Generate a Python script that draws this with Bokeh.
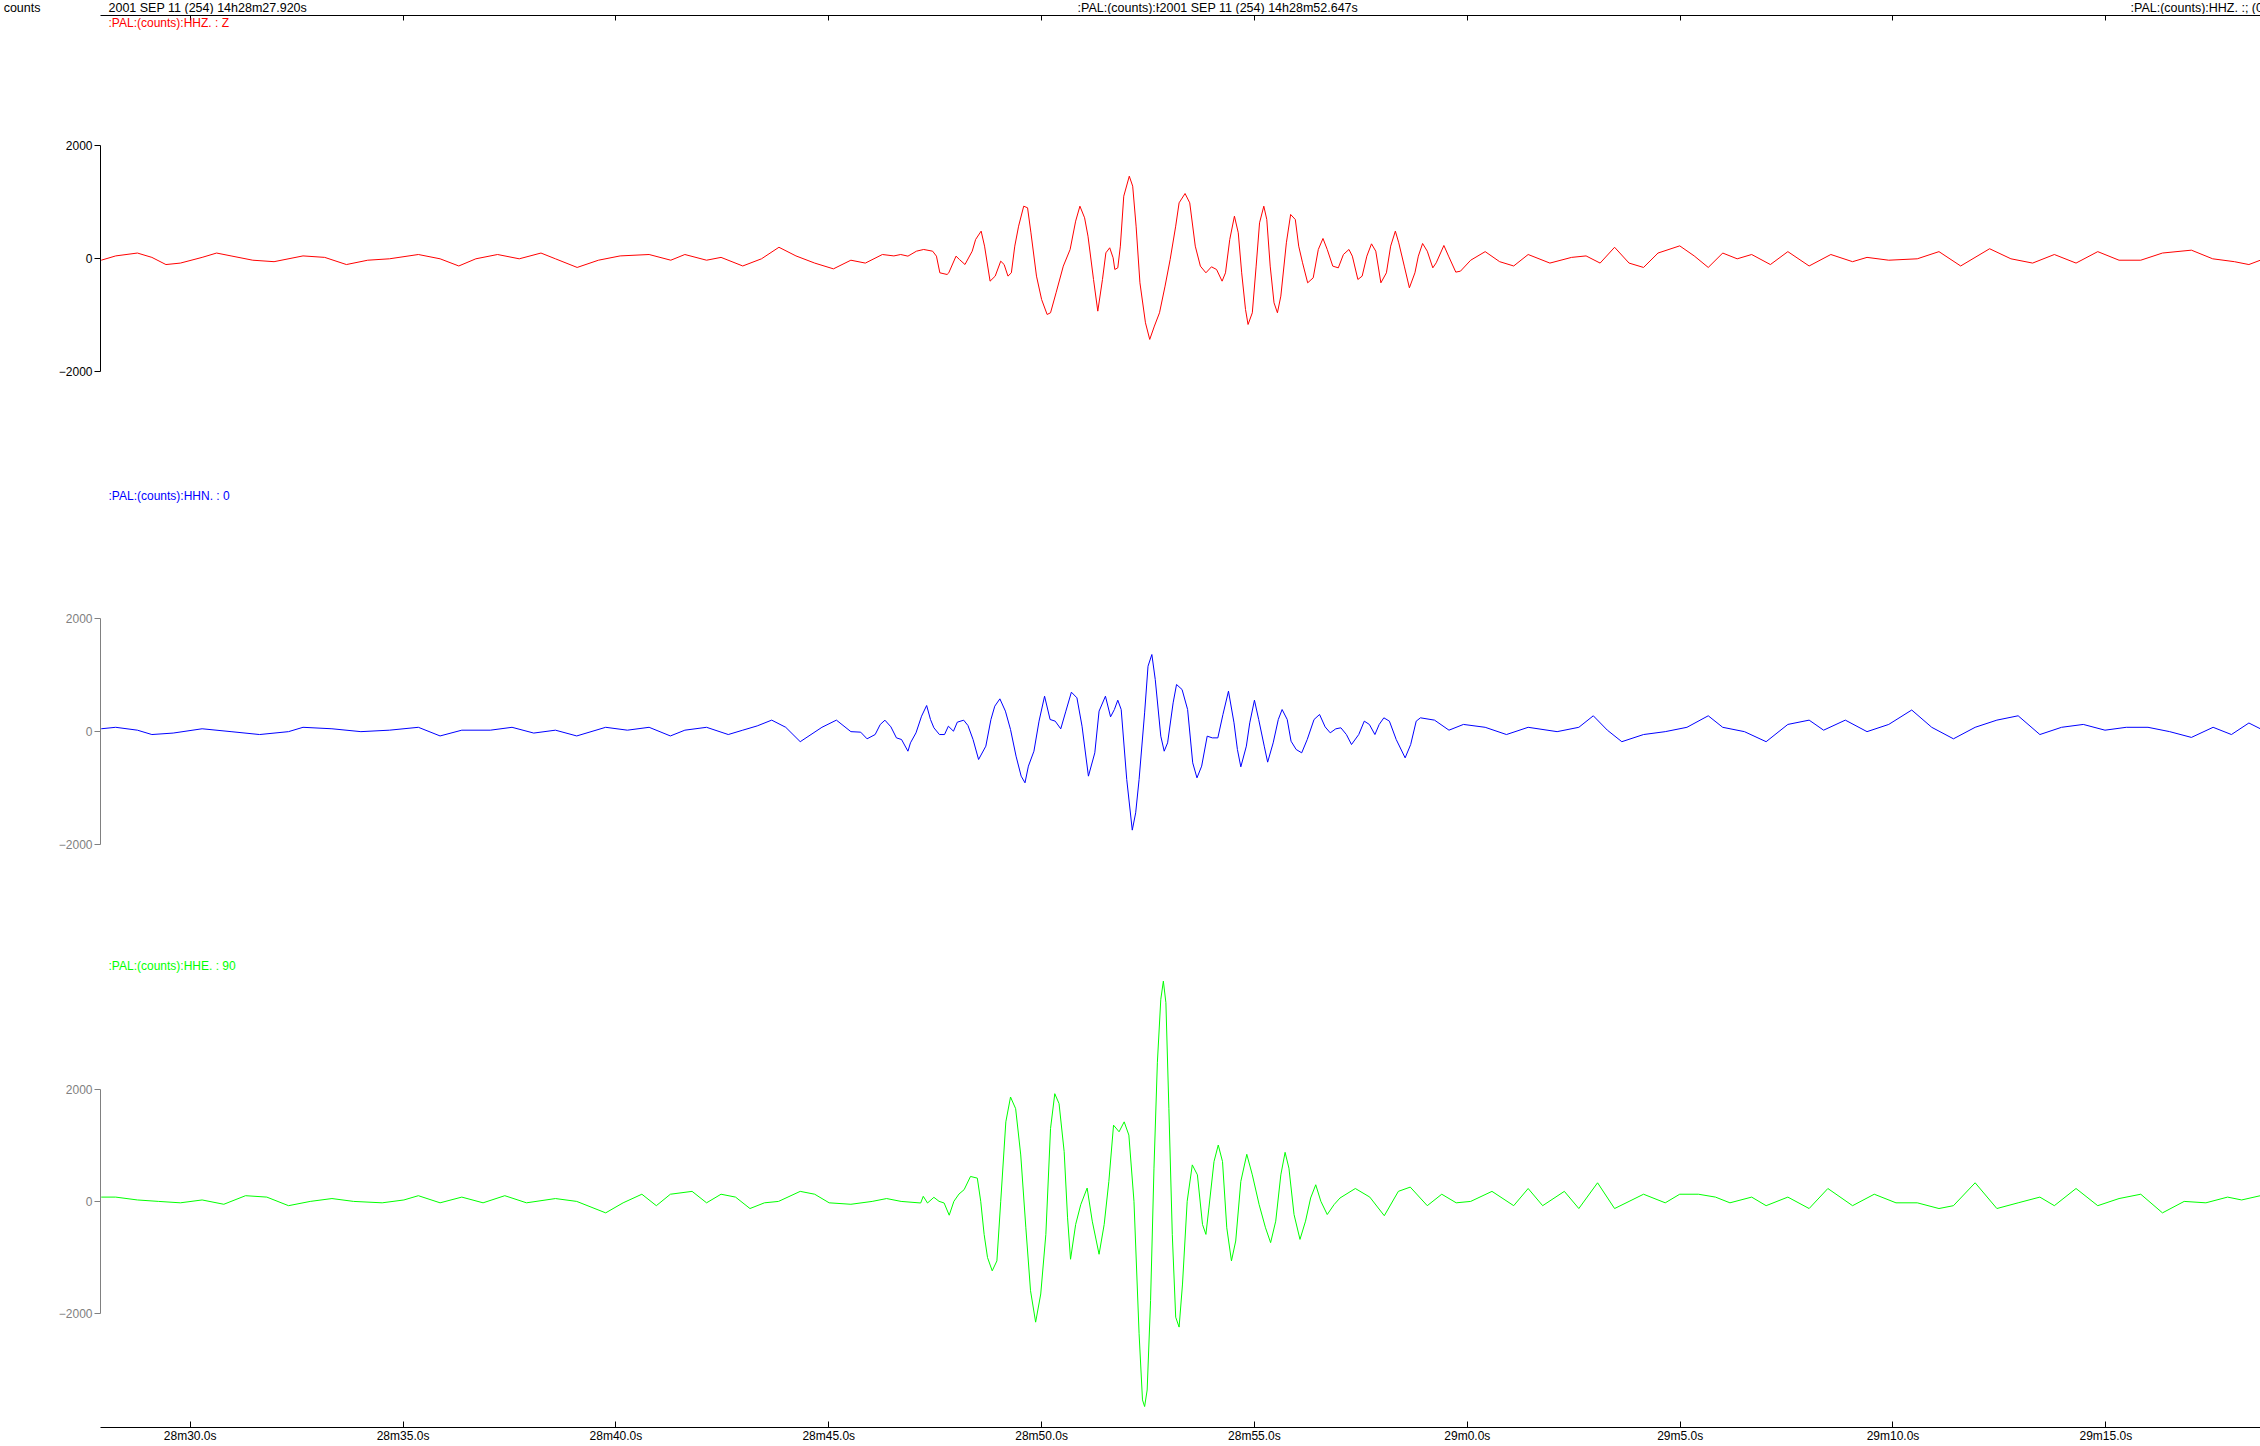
from bokeh.plotting import figure
from bokeh.models import LinearAxis, FixedTicker, Range1d, Label, CustomJSTickFormatter
from bokeh.layouts import column
from bokeh.embed import file_html
from bokeh.resources import INLINE

# ---------------- data (time in s after 14h28m, counts) ----------------
hhz_trace = [
    (27.91, -25), (28.25, 51), (28.76, 102), (29.10, 25), (29.43, -102), (29.77, -76), (30.28, 25),
    (30.62, 102), (30.96, 51), (31.47, -25), (31.97, -51), (32.65, 51), (33.16, 25), (33.67, -102),
    (34.17, -25), (34.68, 0), (35.36, 76), (35.87, 0), (36.31, -127), (36.71, 0), (37.22, 76),
    (37.73, 0), (38.24, 102), (38.58, 0), (39.09, -153), (39.59, -25), (40.10, 51), (40.78, 76),
    (41.29, -25), (41.62, 76), (42.13, -25), (42.47, 25), (42.98, -127), (43.42, 0), (43.83, 204),
    (44.23, 51), (44.67, -76), (45.11, -178), (45.52, -25), (45.86, -76), (46.26, 76), (46.53, 51),
    (46.69, 76), (46.86, 47), (47.06, 135), (47.23, 165), (47.44, 135), (47.53, 47), (47.61, -248),
    (47.78, -278), (47.82, -248), (47.99, 47), (48.07, -12), (48.20, -101), (48.37, 135), (48.45, 342),
    (48.58, 490), (48.66, 224), (48.79, -396), (48.91, -307), (49.04, -42), (49.12, -101), (49.21, -307),
    (49.29, -248), (49.37, 224), (49.46, 578), (49.58, 932), (49.67, 903), (49.75, 460), (49.88, -307),
    (50.00, -720), (50.13, -986), (50.21, -956), (50.34, -602), (50.51, -130), (50.67, 165), (50.80, 667),
    (50.90, 932), (51.01, 726), (51.09, 401), (51.22, -366), (51.32, -927), (51.43, -366), (51.51, 106),
    (51.60, 195), (51.68, 18), (51.72, -189), (51.79, -160), (51.85, 224), (51.93, 1109), (52.06, 1463),
    (52.14, 1286), (52.22, 578), (52.31, -425), (52.44, -1133), (52.54, -1428), (52.65, -1192),
    (52.77, -956), (52.90, -484), (53.02, -12), (53.15, 578), (53.23, 991), (53.37, 1156), (53.48, 991),
    (53.61, 224), (53.73, -130), (53.86, -248), (53.99, -142), (54.11, -189), (54.24, -396), (54.32, -248),
    (54.42, 342), (54.53, 755), (54.62, 460), (54.70, -248), (54.79, -897), (54.85, -1163), (54.95, -956),
    (55.04, -130), (55.12, 637), (55.22, 932), (55.29, 696), (55.37, -130), (55.46, -779), (55.54, -956),
    (55.62, -661), (55.75, 283), (55.85, 785), (55.96, 696), (56.04, 224), (56.13, -71), (56.25, -425),
    (56.38, -337), (56.50, 165), (56.61, 360), (56.71, 165), (56.84, -130), (56.97, -160), (57.09, 76),
    (57.22, 165), (57.30, 47), (57.43, -366), (57.53, -307), (57.64, 47), (57.75, 265), (57.85, 135),
    (57.97, -425), (58.10, -248), (58.20, 224), (58.31, 490), (58.39, 283), (58.52, -130), (58.64, -514),
    (58.77, -248), (58.85, 47), (58.95, 271), (59.06, 135), (59.19, -160), (59.27, -71), (59.45, 236),
    (59.56, 47), (59.73, -236), (59.84, -219),
    (60.08, -25), (60.42, 127), (60.76, -51), (61.09, -127), (61.43, 76), (61.94, -76), (62.45, 25),
    (62.79, 51), (63.12, -76), (63.46, 204), (63.80, -76), (64.14, -153), (64.48, 102), (64.99, 229),
    (65.33, 51), (65.66, -153), (66.00, 102), (66.34, 0), (66.68, 76), (67.12, -102), (67.53, 127),
    (68.03, -127), (68.54, 76), (69.05, -51), (69.39, 25), (69.90, -25), (70.57, 0), (71.08, 127),
    (71.59, -127), (72.27, 178), (72.77, 0), (73.28, -76), (73.79, 76), (74.30, -76), (74.81, 127),
    (75.31, -25), (75.82, -25), (76.33, 102), (77.01, 153), (77.51, 0), (78.02, -51), (78.36, -102),
    (78.63, -25),
]

hhn_trace = [
    (27.91, 43), (28.25, 69), (28.76, 18), (29.10, -59), (29.60, -33), (30.28, 43), (30.96, -8),
    (31.63, -59), (32.31, -8), (32.65, 69), (33.33, 43), (34.01, -8), (34.68, 18), (35.36, 69),
    (35.87, -84), (36.38, 18), (37.05, 18), (37.56, 69), (38.07, -33), (38.58, 18), (39.08, -84),
    (39.76, 69), (40.27, 18), (40.78, 69), (41.28, -84), (41.62, 18), (42.13, 69), (42.64, -59),
    (42.98, 18), (43.32, 94), (43.66, 196), (43.99, 69), (44.33, -186), (44.84, 69), (45.18, 196),
    (45.52, -8),
    (45.75, -17), (45.90, -135), (46.09, -59), (46.21, 119), (46.32, 195), (46.46, 77), (46.59, -118),
    (46.71, -147), (46.86, -354), (46.92, -206), (47.05, -29), (47.18, 266), (47.30, 455), (47.39, 207),
    (47.47, 60), (47.60, -59), (47.72, -59), (47.81, 89), (47.93, 0), (48.02, 160), (48.17, 195),
    (48.27, 101), (48.39, -147), (48.52, -501), (48.69, -265), (48.81, 207), (48.90, 443), (49.02, 573),
    (49.15, 355), (49.27, 30), (49.40, -442), (49.52, -796), (49.61, -914), (49.69, -619), (49.82, -354),
    (49.94, 178), (50.07, 620), (50.20, 207), (50.32, 178), (50.45, 42), (50.57, 355), (50.70, 691),
    (50.83, 591), (50.95, 89), (51.10, -796), (51.25, -383), (51.35, 355), (51.50, 620), (51.62, 254),
    (51.71, 384), (51.79, 549), (51.87, 384), (52.00, -855), (52.13, -1752), (52.21, -1445), (52.29, -855),
    (52.42, 325), (52.50, 1151), (52.59, 1358), (52.67, 915), (52.80, -88), (52.88, -354), (52.96, -206),
    (53.09, 502), (53.17, 827), (53.30, 738), (53.43, 384), (53.55, -560), (53.65, -826), (53.76, -619),
    (53.89, -88), (54.01, -118), (54.14, -118), (54.26, 296), (54.39, 709), (54.52, 148), (54.60, -324),
    (54.68, -631), (54.81, -265), (54.89, 148), (55.00, 549), (55.10, 207), (55.23, -265), (55.31, -548),
    (55.44, -206), (55.56, 207), (55.65, 384), (55.77, 207), (55.86, -177), (55.98, -324), (56.11, -383),
    (56.24, -147), (56.40, 207), (56.53, 296), (56.66, 77), (56.78, -29), (56.91, 42), (57.03, 60),
    (57.16, -59), (57.28, -236), (57.45, -59), (57.58, 178), (57.70, 119), (57.83, -59), (57.93, 119),
    (58.04, 237), (58.17, 178), (58.33, -147), (58.54, -472), (58.67, -236), (58.80, 178), (58.90, 237),
    (59.23, 196), (59.57, 18), (59.91, 120), (60.42, 69), (60.92, -59), (61.43, 69), (62.11, -8),
    (62.62, 69), (62.96, 273), (63.29, 18), (63.63, -186), (64.14, -59), (64.65, -8), (65.16, 69),
    (65.66, 273), (66.00, 69), (66.51, -8), (67.02, -186), (67.53, 120), (68.03, 196), (68.37, 18),
    (68.88, 196), (69.39, -8), (69.90, 120), (70.44, 375), (70.91, 69), (71.42, -135), (71.93, 69),
    (72.44, 196), (72.94, 273), (73.45, -59), (73.96, 69), (74.47, 120), (74.98, 18), (75.48, 69),
    (75.99, 69), (76.50, -8), (77.01, -110), (77.52, 69), (77.95, -59), (78.36, 145), (78.63, 43),
]

hhe_trace = [
    (27.91, 74), (28.25, 74), (28.76, 23), (29.26, -3), (29.77, -28), (30.28, 23), (30.79, -54),
    (31.30, 99), (31.80, 74), (32.31, -79), (32.82, -3), (33.33, 48), (33.84, -3), (34.51, -28),
    (35.02, 23), (35.36, 99), (35.87, -28), (36.38, 74), (36.88, -28), (37.39, 99), (37.90, -28),
    (38.58, 48), (39.08, -3), (39.76, -207), (40.17, -28), (40.61, 125), (40.95, -79), (41.28, 125),
    (41.79, 176), (42.13, -28), (42.47, 125), (42.81, 74), (43.15, -130), (43.49, -28), (43.82, -3),
    (44.33, 176), (44.67, 125), (45.01, -28), (45.52, -54), (46.02, -3), (46.36, 48), (46.70, -3),
    (47.16, -31), (47.22, 88), (47.32, -31), (47.47, 70), (47.59, -1), (47.71, -31), (47.83, -249),
    (47.94, -1), (48.06, 129), (48.18, 206), (48.33, 442), (48.49, 412), (48.57, -1), (48.65, -591),
    (48.73, -1004), (48.84, -1240), (48.95, -1063), (49.04, -1), (49.16, 1415), (49.27, 1858),
    (49.39, 1651), (49.51, 825), (49.63, -473), (49.74, -1594), (49.86, -2155), (49.98, -1653),
    (50.10, -591), (50.21, 1297), (50.31, 1917), (50.41, 1740), (50.53, 884), (50.61, -296),
    (50.68, -1034), (50.80, -414), (50.92, -60), (51.07, 235), (51.19, -355), (51.35, -945),
    (51.47, -414), (51.58, 353), (51.69, 1356), (51.82, 1238), (51.94, 1415), (52.05, 1179), (52.17, -1),
    (52.29, -2361), (52.37, -3541), (52.42, -3659), (52.48, -3364), (52.56, -1771), (52.64, 589),
    (52.72, 2477), (52.80, 3598), (52.86, 3923), (52.92, 3539), (52.99, 1651), (53.07, -591),
    (53.15, -2066), (53.23, -2243), (53.31, -1476), (53.42, -1), (53.54, 648), (53.66, 471),
    (53.78, -414), (53.86, -591), (53.93, -119), (54.05, 707), (54.15, 1002), (54.25, 707), (54.35, -473),
    (54.46, -1063), (54.56, -709), (54.68, 353), (54.82, 837), (54.95, 471), (55.11, -60), (55.26, -473),
    (55.38, -738), (55.50, -355), (55.62, 471), (55.72, 872), (55.81, 589), (55.93, -237), (56.07, -680),
    (56.20, -355), (56.32, 58), (56.44, 294), (56.56, -1), (56.71, -237), (56.87, -60), (57.01, 58),
    (57.37, 227), (57.71, 74), (58.05, -258), (58.38, 176), (58.66, 252), (59.06, -79), (59.40, 125),
    (59.74, -28), (60.08, -3), (60.58, 176), (61.09, -79), (61.43, 227), (61.77, -79), (62.28, 176),
    (62.62, -130), (63.06, 329), (63.46, -130), (63.80, -3), (64.14, 125), (64.65, -28), (64.99, 125),
    (65.43, 125), (65.83, 74), (66.17, -28), (66.68, 74), (67.02, -79), (67.53, 74), (68.03, -130),
    (68.47, 227), (69.05, -79), (69.56, 125), (70.07, -28), (70.57, -28), (71.08, -130), (71.42, -79),
    (71.93, 329), (72.44, -130), (72.94, -28), (73.45, 74), (73.79, -79), (74.30, 227), (74.81, -79),
    (75.31, 48), (75.82, 125), (76.33, -207), (76.84, -3), (77.35, -28), (77.86, 74), (78.19, 23),
    (78.63, 99),
]

tick_seconds = [30, 35, 40, 45, 50, 55, 60, 65, 70, 75]
tick_labels = ["28m30.0s", "28m35.0s", "28m40.0s", "28m45.0s", "28m50.0s",
               "28m55.0s", "29m0.0s", "29m5.0s", "29m10.0s", "29m15.0s"]
count_ticks = [-2000, 0, 2000]

units_text = "counts"
header_left = "2001 SEP 11 (254)  14h28m27.920s"
header_mid = "2001 SEP 11 (254)  14h28m52.647s"
station_text = ":PAL:(counts):HHZ.  :; (0"
channel_names = [":PAL:(counts):HHZ.  : Z", ":PAL:(counts):HHN.  : 0", ":PAL:(counts):HHE.  : 90"]
traces = [hhz_trace, hhn_trace, hhe_trace]
trace_colors = ["#ff0000", "#0000ff", "#00ff00"]
axis_colors = ["#000000", "#808080", "#808080"]

# ---------------- layout ----------------
FONT = "Liberation Sans"
FS = "12px"
HFS = "12.5px"
W = 2260
LEFT = 100
FRAME_W = W - LEFT
PX_PER_S = 42.57
X0 = 27.893
X1 = X0 + FRAME_W / PX_PER_S
SPP = 1.0 / PX_PER_S
CPP = 17.71               # counts per pixel
HEAD_H = 14

x_range = Range1d(X0, X1)

# header strip (texts above the top time axis)
head = figure(width=W, height=HEAD_H, x_range=x_range,
              y_range=Range1d(0, HEAD_H), x_axis_type=None, y_axis_type=None,
              toolbar_location=None, output_backend="svg", title=None,
              min_border_left=LEFT, min_border_right=0, min_border_top=0, min_border_bottom=0)
head.outline_line_color = None
hy = 7
hax = LinearAxis(ticker=FixedTicker(ticks=[hy], minor_ticks=[]),
                 major_label_overrides={hy: units_text})
hax.axis_line_color = None
hax.major_tick_line_color = None
hax.minor_tick_line_color = None
hax.major_tick_out = 0
hax.major_tick_in = 0
hax.major_label_standoff = 60
hax.major_label_text_font = FONT
hax.major_label_text_font_size = HFS
hax.major_label_text_color = "black"
head.add_layout(hax, "left")

head_items = [
    (X0 + 8 * SPP, header_left, None),
    (X0 + 977 * SPP, station_text, None),
    (X0 + 1059 * SPP, header_mid, "white"),
    (X0 + 2030 * SPP, station_text, None),
]
for hx, txt, bg in head_items:
    head.add_layout(Label(x=hx, y=hy, text=txt, text_font=FONT, text_font_size=HFS,
                          text_color="black", text_baseline="middle", text_align="left",
                          background_fill_color=bg))

# panel frames
frame_h = [471, 472, 472]
tops = [1, 0, 0]
bottoms = [0, 0, 15]
zero_off = [243.3, 244.7, 244.3]
label_off = [7, 9, 8]

figs = [head]
for i in range(3):
    y_top = zero_off[i] * CPP
    y_bot = -(frame_h[i] - zero_off[i]) * CPP
    p = figure(width=W, height=frame_h[i] + tops[i] + bottoms[i], x_range=x_range,
               y_range=Range1d(y_bot, y_top),
               x_axis_type=None, y_axis_type=None, toolbar_location=None,
               output_backend="svg", title=None,
               min_border_left=LEFT, min_border_right=0,
               min_border_top=tops[i], min_border_bottom=bottoms[i])
    p.outline_line_color = None

    ts = [a for a, b in traces[i]]
    vs = [b for a, b in traces[i]]
    p.line(ts, vs, line_color=trace_colors[i], line_width=1)

    ya = LinearAxis(ticker=FixedTicker(ticks=count_ticks, minor_ticks=[]), bounds=(-2000, 2000))
    ya.major_tick_out = 6
    ya.major_tick_in = 0
    ya.minor_tick_out = 0
    ya.minor_tick_in = 0
    ya.major_label_standoff = 2
    ya.major_label_text_font = FONT
    ya.major_label_text_font_size = FS
    ya.major_label_text_color = axis_colors[i]
    ya.axis_line_color = axis_colors[i]
    ya.major_tick_line_color = axis_colors[i]
    p.add_layout(ya, "left")

    p.add_layout(Label(x=X0 + 8 * SPP, y=y_top - label_off[i] * CPP, text=channel_names[i],
                       text_font=FONT, text_font_size=FS, text_color=trace_colors[i],
                       text_baseline="middle", text_align="left"))
    figs.append(p)

# top time axis (ticks pointing into the first panel, no labels)
p1 = figs[1]
ta = LinearAxis(ticker=FixedTicker(ticks=tick_seconds, minor_ticks=[]),
                formatter=CustomJSTickFormatter(code="return ''"))
ta.major_tick_in = 5
ta.major_tick_out = 0
ta.minor_tick_in = 0
ta.minor_tick_out = 0
ta.major_label_standoff = 0
ta.major_label_text_font_size = "0px"
ta.axis_line_color = "black"
p1.add_layout(ta, "above")

# bottom time axis
p3 = figs[3]
ba = LinearAxis(ticker=FixedTicker(ticks=tick_seconds, minor_ticks=[]),
                major_label_overrides={t: l for t, l in zip(tick_seconds, tick_labels)})
ba.major_tick_in = 6
ba.major_tick_out = 0
ba.minor_tick_in = 0
ba.minor_tick_out = 0
ba.major_label_standoff = 1
ba.major_label_text_font = FONT
ba.major_label_text_font_size = FS
ba.major_label_text_color = "black"
ba.axis_line_color = "black"
p3.add_layout(ba, "below")

layout = column(*figs, spacing=0)
open("out.html", "w").write(file_html(layout, INLINE))
